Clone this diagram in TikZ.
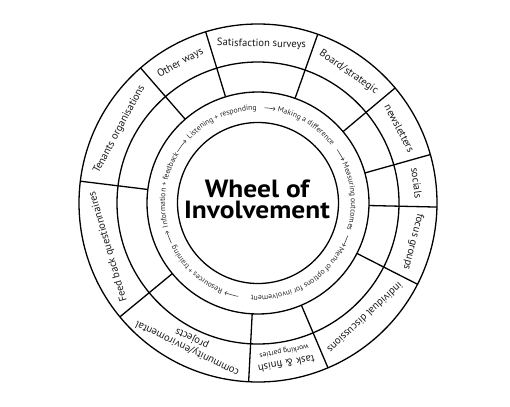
\documentclass[tikz,border=0pt]{standalone}
\usepackage{fontspec}
\setmainfont{PT Sans}
\usetikzlibrary{decorations.text,arrows.meta}
\begin{document}
\begin{tikzpicture}[x=1bp,y=1bp]
\tikzset{
  ring/.style={line width=1.3bp, draw=black},
  spoke/.style={line width=1.3bp, draw=black},
  lab/.style={font=\fontsize{10.6}{11}\selectfont, inner sep=0pt, align=center, text=black!90},
  title/.style={font=\fontsize{25}{21}\selectfont\bfseries, inner sep=0pt, anchor=base, xscale=1.1},
  flow/.style={line width=0.55bp, draw=black!80, -{Straight Barb[length=1.8bp,width=3.6bp]}}
}
\newcommand\ringfont{\fontsize{7.7}{8}\selectfont\color{black!85}}
\useasboundingbox (0,0) rectangle (510,406);
\coordinate (C) at (258,203);
\begin{scope}[shift={(258,203)}]
  % rings
  \draw[ring] (0,0) circle[radius=80.5];
  \draw[ring] (0,0) circle[radius=111];
  \draw[ring] (0,0) circle[radius=141];
  \draw[ring] (0,0) circle[radius=179];
  % spokes
  \foreach \a in {173,131,107,70.5,40,15.7,-1.3,-27,-67,-93,219.5}
    \draw[spoke] (\a:111) -- (\a:179);
  % outer labels (tops outward)
  \node[lab, rotate=88.75-90]  (sat)  at (88.75:159)  {Satisfaction surveys};
  \node[lab, rotate=119-90]    (oth)  at (119:160)    {Other ways};
  \node[lab, rotate=152-90]    (ten)  at (152:157)    {Tenants organisations};
  \node[lab, rotate=196.25-90] (feed) at (196.25:156) {Feed back questionnaires};
  \node[lab, rotate=244-90]    (comm) at (244:156)    {community/enviromental\\projects};
  \node[lab, rotate=-80-90]    (task) at (-80:157)    {task \& finish\\{\fontsize{7.5}{8}\selectfont working parties}};
  \node[lab, rotate=-47-90]    (ind)  at (-47:157)    {individual discussions};
  \node[lab, rotate=-14-90]    (foc)  at (-14:160)    {focus groups};
  \node[lab, rotate=7.2-90]    (soc)  at (7.2:160)    {socials};
  \node[lab, rotate=27.85-90]  (news) at (27.85:160)  {newsletters};
  \node[lab, rotate=55.25-90]  (board) at (55.25:159) {Board/strategic};
  % inner ring text (clockwise)
  \path[decorate, decoration={text along path, text={|\ringfont|Listening + responding}}]
    (137:93) arc[start angle=137, end angle=17, radius=93];
  \path[decorate, decoration={text along path, text={|\ringfont|Making a difference}}]
    (78:93) arc[start angle=78, end angle=-42, radius=93];
  \path[decorate, decoration={text along path, text={|\ringfont|Measuring outcomes}}]
    (25:93) arc[start angle=25, end angle=-95, radius=93];
  \path[decorate, decoration={text along path, text={|\ringfont|Menu of options for involvement}}]
    (-28:93) arc[start angle=-28, end angle=-148, radius=93];
  \path[decorate, decoration={text along path, text={|\ringfont|Resources + training}}]
    (-112:93) arc[start angle=-112, end angle=-232, radius=93];
  \path[decorate, decoration={text along path, text={|\ringfont|Information + feedback}}]
    (195:93) arc[start angle=195, end angle=75, radius=93];
  % flow arrows
  \draw[flow] (147.5:95.5) arc[start angle=147.5, end angle=139, radius=95.5];
  \draw[flow] (86:95.5) arc[start angle=86, end angle=79.5, radius=95.5];
  \draw[flow] (34:95.5) arc[start angle=34, end angle=26.5, radius=95.5];
  \draw[flow] (-20:95.5) arc[start angle=-20, end angle=-27, radius=95.5];
  \draw[flow] (-102:95.5) arc[start angle=-102, end angle=-110.5, radius=95.5];
  \draw[flow] (-155:95.5) arc[start angle=-155, end angle=-163, radius=95.5];
\end{scope}
\node[title] (t1) at (257,209) {Wheel of};
\node[title] (t2) at (257,188) {Involvement};
\end{tikzpicture}
\end{document}
